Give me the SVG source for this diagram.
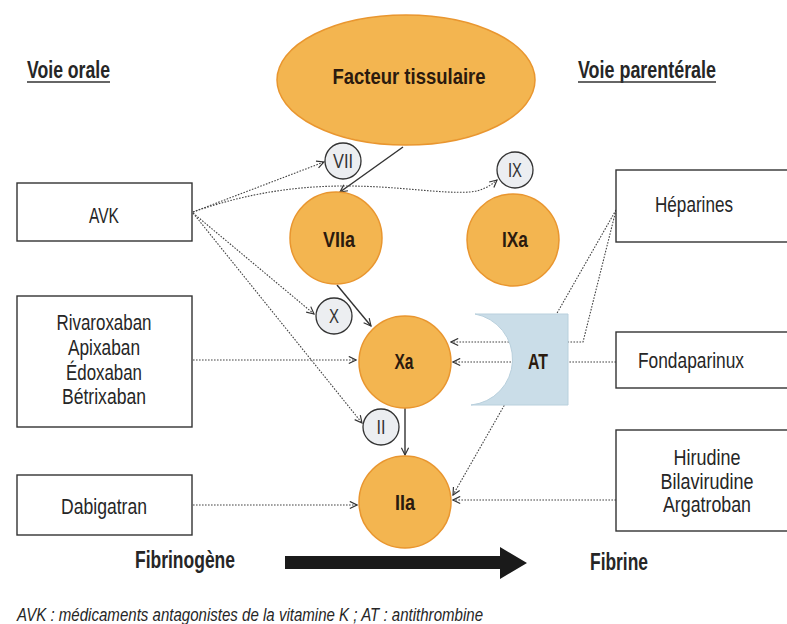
<svg xmlns="http://www.w3.org/2000/svg" width="787" height="624" viewBox="0 0 787 624">
<style>
text{font-family:"Liberation Sans",Arial,sans-serif;fill:#262626}
.h{font-weight:bold;font-size:23px;fill:#262626}
.lbl{font-size:22px;text-anchor:middle}
.nd{font-weight:bold;font-size:22px;text-anchor:middle;fill:#2b1a0e}
.sm{font-size:20px;text-anchor:middle;fill:#333}
.box{fill:#fff;stroke:#333;stroke-width:1.4}
.fac{fill:#F3B550;stroke:#E9962F;stroke-width:1.5}
.fct{fill:#ECEEF1;stroke:#333;stroke-width:1.3}
.dot{fill:none;stroke:#444;stroke-width:1.1;stroke-dasharray:1.6 1.4}
.sol{fill:none;stroke:#333;stroke-width:1.4}
</style>
<defs>
<marker id="ah" viewBox="0 0 10 10" refX="9" refY="5" markerWidth="9" markerHeight="9" markerUnits="userSpaceOnUse" orient="auto">
<path d="M1,1 L9,5 L1,9" fill="none" stroke="#333" stroke-width="1.3"/>
</marker>
</defs>
<rect width="787" height="624" fill="#fff"/>

<g id="connectors">
<line class="sol" x1="403" y1="147" x2="340" y2="192" marker-end="url(#ah)"/>
<line class="sol" x1="337" y1="285" x2="371" y2="326" marker-end="url(#ah)"/>
<line class="sol" x1="405" y1="408" x2="405" y2="455" marker-end="url(#ah)"/>
<line class="dot" x1="193" y1="212" x2="324" y2="162" marker-end="url(#ah)"/>
<path class="dot" d="M193,212 C250,192 300,186 345,186 C400,186 440,194 470,192 C482,191 490,186 497,180" marker-end="url(#ah)"/>
<line class="dot" x1="193" y1="213" x2="314" y2="314" marker-end="url(#ah)"/>
<line class="dot" x1="193" y1="213" x2="362" y2="423" marker-end="url(#ah)"/>
<line class="dot" x1="193" y1="360" x2="356" y2="360" marker-end="url(#ah)"/>
<line class="dot" x1="193" y1="505" x2="357" y2="505" marker-end="url(#ah)"/>
<polyline class="dot" points="616,210 583,342 451,342" marker-end="url(#ah)"/>
<line class="dot" x1="616" y1="362" x2="453" y2="362" marker-end="url(#ah)"/>
<line class="dot" x1="616" y1="210" x2="453" y2="495" marker-end="url(#ah)"/>
<line class="dot" x1="616" y1="500" x2="453" y2="500" marker-end="url(#ah)"/>
</g>

<g id="title-oral">
<text class="h" x="27" y="78" textLength="83" lengthAdjust="spacingAndGlyphs">Voie orale</text>
<line x1="27" y1="82" x2="110" y2="82" stroke="#333" stroke-width="1.5"/>
</g>
<g id="title-parenteral">
<text class="h" x="578" y="78" textLength="138" lengthAdjust="spacingAndGlyphs">Voie parentérale</text>
<line x1="578" y1="82" x2="716" y2="82" stroke="#333" stroke-width="1.5"/>
</g>

<g id="facteur-tissulaire">
<ellipse class="fac" cx="406" cy="80" rx="129" ry="65"/>
<text class="nd" x="409" y="84" font-size="23" textLength="153" lengthAdjust="spacingAndGlyphs">Facteur tissulaire</text>
</g>

<g id="VII"><circle class="fct" cx="343" cy="161" r="18"/><text class="sm" x="343" y="168" textLength="20" lengthAdjust="spacingAndGlyphs">VII</text></g>
<g id="IX"><circle class="fct" cx="515" cy="170" r="18"/><text class="sm" x="515" y="177" textLength="14" lengthAdjust="spacingAndGlyphs">IX</text></g>
<g id="X"><circle class="fct" cx="334" cy="316" r="18"/><text class="sm" x="334" y="323" textLength="10" lengthAdjust="spacingAndGlyphs">X</text></g>
<g id="II"><circle class="fct" cx="381" cy="427" r="18"/><text class="sm" x="381" y="434" textLength="9" lengthAdjust="spacingAndGlyphs">II</text></g>

<g id="VIIa"><circle class="fac" cx="336" cy="238" r="46"/><text class="nd" x="339" y="247" textLength="32" lengthAdjust="spacingAndGlyphs">VIIa</text></g>
<g id="IXa"><circle class="fac" cx="513" cy="240" r="46"/><text class="nd" x="515" y="247" textLength="26" lengthAdjust="spacingAndGlyphs">IXa</text></g>
<g id="Xa"><circle class="fac" cx="405" cy="362" r="46"/><text class="nd" x="404" y="369" textLength="19" lengthAdjust="spacingAndGlyphs">Xa</text></g>
<g id="IIa"><circle class="fac" cx="405" cy="502" r="46"/><text class="nd" x="405" y="510" textLength="20" lengthAdjust="spacingAndGlyphs">IIa</text></g>

<g id="AT">
<path d="M475,314 L568,314 L568,405 L471,405 A46,46 0 0 0 475,314 Z" fill="#CADDE8" stroke="#B9D0DD" stroke-width="1"/>
<text class="nd" x="538" y="369" textLength="20" lengthAdjust="spacingAndGlyphs" fill="#1e2a30">AT</text>
</g>

<g id="AVK">
<rect class="box" x="17" y="183" width="175" height="58"/>
<text class="lbl" x="104" y="223" textLength="30" lengthAdjust="spacingAndGlyphs">AVK</text>
</g>
<g id="xabans">
<rect class="box" x="17" y="296" width="175" height="131"/>
<text class="lbl" x="104" y="330" textLength="95" lengthAdjust="spacingAndGlyphs">Rivaroxaban</text>
<text class="lbl" x="104" y="355" textLength="72" lengthAdjust="spacingAndGlyphs">Apixaban</text>
<text class="lbl" x="104" y="380" textLength="76" lengthAdjust="spacingAndGlyphs">Édoxaban</text>
<text class="lbl" x="104" y="404" textLength="84" lengthAdjust="spacingAndGlyphs">Bétrixaban</text>
</g>
<g id="dabigatran">
<rect class="box" x="17" y="475" width="175" height="60"/>
<text class="lbl" x="104" y="514" textLength="86" lengthAdjust="spacingAndGlyphs">Dabigatran</text>
</g>

<g id="heparines">
<rect class="box" x="616" y="170" width="200" height="72"/>
<text class="lbl" x="694" y="212" textLength="78" lengthAdjust="spacingAndGlyphs">Héparines</text>
</g>
<g id="fondaparinux">
<rect class="box" x="616" y="332" width="200" height="56"/>
<text class="lbl" x="691" y="368" textLength="106" lengthAdjust="spacingAndGlyphs">Fondaparinux</text>
</g>
<g id="hirudine">
<rect class="box" x="616" y="430" width="200" height="101"/>
<text class="lbl" x="707" y="465" textLength="67" lengthAdjust="spacingAndGlyphs">Hirudine</text>
<text class="lbl" x="707" y="489" textLength="93" lengthAdjust="spacingAndGlyphs">Bilavirudine</text>
<text class="lbl" x="707" y="512" textLength="88" lengthAdjust="spacingAndGlyphs">Argatroban</text>
</g>

<g id="fibrin-arrow">
<text class="h" x="135" y="568" textLength="100" lengthAdjust="spacingAndGlyphs">Fibrinogène</text>
<polygon points="285,556 500,556 500,547 527,563 500,579 500,569 285,569" fill="#1a1a1a"/>
<text class="h" x="590" y="570" textLength="58" lengthAdjust="spacingAndGlyphs">Fibrine</text>
</g>

<text x="17" y="621" font-size="18" font-style="italic" textLength="466" lengthAdjust="spacingAndGlyphs">AVK : médicaments antagonistes de la vitamine K ; AT : antithrombine</text>
</svg>
